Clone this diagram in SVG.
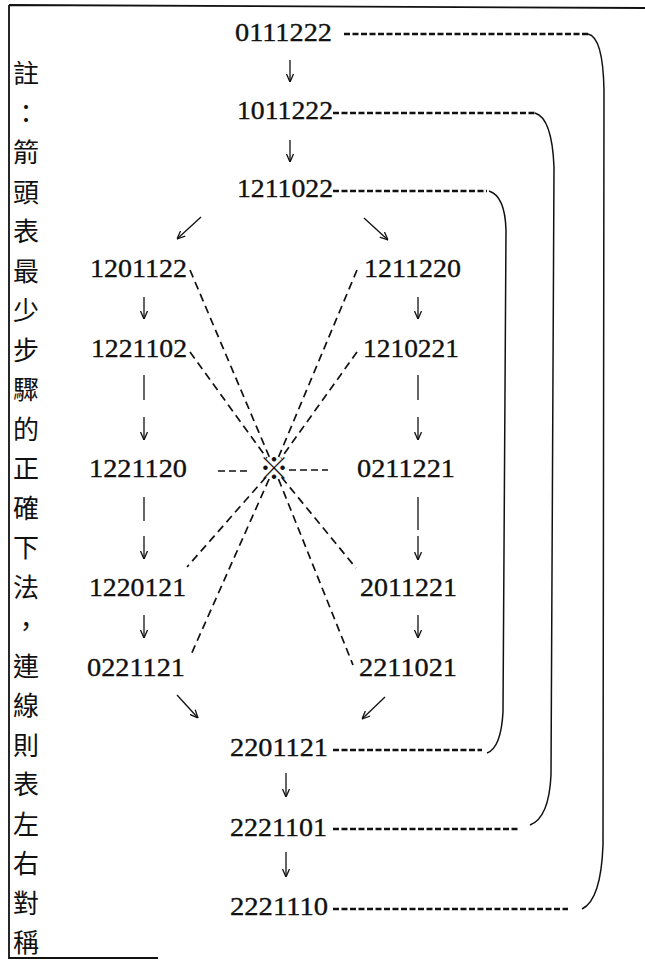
<svg xmlns="http://www.w3.org/2000/svg" width="645" height="961" viewBox="0 0 645 961">
<style>
.n{font-family:"Liberation Serif","Times New Roman",serif;font-size:26px;fill:#111;stroke:#111;stroke-width:0.35}
.c{font-family:"Noto Sans CJK TC","Noto Sans CJK SC",sans-serif;font-size:26px;fill:#111;text-anchor:middle}
.a{stroke:#111;stroke-width:1.3;fill:none;marker-end:url(#v)}
.b{stroke:#111;stroke-width:1.3;fill:none}
.d{stroke:#111;stroke-width:1.7;fill:none;stroke-dasharray:8 5}
.h{stroke:#111;stroke-width:2.5;fill:none;stroke-dasharray:6 2.5}
.k{stroke:#111;stroke-width:1.5;fill:none}
.f{stroke:#111;stroke-width:1.8;fill:none}
</style>
<defs>
<marker id="v" viewBox="0 0 8 8" refX="8" refY="4" markerWidth="8" markerHeight="8" markerUnits="userSpaceOnUse" orient="auto">
<path d="M0,0.5 L8,4 L0,7.5" fill="none" stroke="#111" stroke-width="1.3"/>
</marker>
</defs>
<rect width="645" height="961" fill="#fff"/>
<g id="frame">
<path class="f" d="M9,5 L645,8 M9,5 L9,958 L158,958"/>
</g>
<g id="note">
<text class="c" x="26" y="83">註</text>
<text class="c" x="26" y="122.5">：</text>
<text class="c" x="26" y="162">箭</text>
<text class="c" x="26" y="201.5">頭</text>
<text class="c" x="26" y="241">表</text>
<text class="c" x="26" y="280.5">最</text>
<text class="c" x="26" y="320">少</text>
<text class="c" x="26" y="359.5">步</text>
<text class="c" x="26" y="399">驟</text>
<text class="c" x="26" y="438.5">的</text>
<text class="c" x="26" y="478">正</text>
<text class="c" x="26" y="517.5">確</text>
<text class="c" x="26" y="557">下</text>
<text class="c" x="26" y="596.5">法</text>
<text class="c" x="26" y="636">，</text>
<text class="c" x="26" y="675.5">連</text>
<text class="c" x="26" y="715">線</text>
<text class="c" x="26" y="754.5">則</text>
<text class="c" x="26" y="794">表</text>
<text class="c" x="26" y="833.5">左</text>
<text class="c" x="26" y="873">右</text>
<text class="c" x="26" y="912.5">對</text>
<text class="c" x="26" y="952">稱</text>
</g>
<g id="connectors">
<line class="a" x1="290" y1="60" x2="290" y2="82"/>
<line class="a" x1="290" y1="140" x2="290" y2="162"/>
<line class="a" x1="201" y1="217" x2="177" y2="239"/>
<line class="a" x1="364" y1="218" x2="388" y2="240"/>
<line class="a" x1="144" y1="297" x2="144" y2="319"/>
<line class="b" x1="144" y1="375" x2="144" y2="400"/>
<line class="a" x1="144" y1="417" x2="144" y2="440"/>
<line class="b" x1="144" y1="497" x2="144" y2="521"/>
<line class="a" x1="144" y1="536" x2="144" y2="559"/>
<line class="a" x1="144" y1="615" x2="144" y2="638"/>
<line class="a" x1="418" y1="297" x2="418" y2="319"/>
<line class="b" x1="418" y1="375" x2="418" y2="400"/>
<line class="a" x1="418" y1="417" x2="418" y2="440"/>
<line class="b" x1="418" y1="497" x2="418" y2="530"/>
<line class="a" x1="418" y1="536" x2="418" y2="560"/>
<line class="a" x1="418" y1="615" x2="418" y2="638"/>
<line class="a" x1="177" y1="695" x2="198" y2="718"/>
<line class="a" x1="385" y1="697" x2="362" y2="719"/>
<line class="a" x1="286" y1="773" x2="286" y2="797"/>
<line class="a" x1="286" y1="852" x2="286" y2="877"/>
<path class="d" d="M190,270 L269.3,456.9 M278.5,479.1 L353,665"/>
<path class="d" d="M190,352 L266.9,458.3 M281.6,477.3 L356,568"/>
<path class="d" d="M357,270 L278.6,456.9 M269.1,479 L190,657"/>
<path class="d" d="M357,352 L281,458.2 M266.1,477 L187,567"/>
<path class="d" d="M218,471 L247,471 M289,470 L328,470" style="stroke-dasharray:7 4"/>
<path class="h" d="M344,34 L588,34"/>
<path class="h" d="M333,113 L535,113"/>
<path class="h" d="M333,191 L487,191"/>
<path class="h" d="M333,750 L482,750"/>
<path class="h" d="M333,829 L520,829"/>
<path class="h" d="M333,909 L568,909"/>
<path class="k" d="M588,34 Q603,37 604,90 L603,845 Q601,900 582,909"/>
<path class="k" d="M535,113 Q552,118 554,167 L551,775 Q549,818 530,825"/>
<path class="k" d="M489,191 Q505,196 506,230 L503,712 Q501,748 487,753"/>
</g>
<g id="center-mark"><text x="274" y="479" font-family="Noto Sans CJK TC,sans-serif" font-size="30" font-weight="bold" text-anchor="middle" fill="#111">※</text></g>
<g id="n0111222"><text class="n" x="235" y="40.5" textLength="97" lengthAdjust="spacingAndGlyphs">0111222</text></g>
<g id="n1011222"><text class="n" x="237" y="118.5" textLength="96" lengthAdjust="spacingAndGlyphs">1011222</text></g>
<g id="n1211022"><text class="n" x="237" y="196.5" textLength="96" lengthAdjust="spacingAndGlyphs">1211022</text></g>
<g id="n1201122"><text class="n" x="90" y="276.5" textLength="97" lengthAdjust="spacingAndGlyphs">1201122</text></g>
<g id="n1221102"><text class="n" x="91" y="356.5" textLength="96" lengthAdjust="spacingAndGlyphs">1221102</text></g>
<g id="n1211220"><text class="n" x="364" y="276.5" textLength="97" lengthAdjust="spacingAndGlyphs">1211220</text></g>
<g id="n1210221"><text class="n" x="363" y="356.5" textLength="96" lengthAdjust="spacingAndGlyphs">1210221</text></g>
<g id="n1221120"><text class="n" x="89" y="476.5" textLength="98" lengthAdjust="spacingAndGlyphs">1221120</text></g>
<g id="n0211221"><text class="n" x="357" y="476.5" textLength="98" lengthAdjust="spacingAndGlyphs">0211221</text></g>
<g id="n1220121"><text class="n" x="89" y="595.5" textLength="97" lengthAdjust="spacingAndGlyphs">1220121</text></g>
<g id="n2011221"><text class="n" x="360" y="595.5" textLength="97" lengthAdjust="spacingAndGlyphs">2011221</text></g>
<g id="n0221121"><text class="n" x="87" y="675.5" textLength="98" lengthAdjust="spacingAndGlyphs">0221121</text></g>
<g id="n2211021"><text class="n" x="359" y="675.5" textLength="98" lengthAdjust="spacingAndGlyphs">2211021</text></g>
<g id="n2201121"><text class="n" x="230" y="755.5" textLength="98" lengthAdjust="spacingAndGlyphs">2201121</text></g>
<g id="n2221101"><text class="n" x="230" y="835.5" textLength="97" lengthAdjust="spacingAndGlyphs">2221101</text></g>
<g id="n2221110"><text class="n" x="230" y="914.5" textLength="98" lengthAdjust="spacingAndGlyphs">2221110</text></g>
</svg>
